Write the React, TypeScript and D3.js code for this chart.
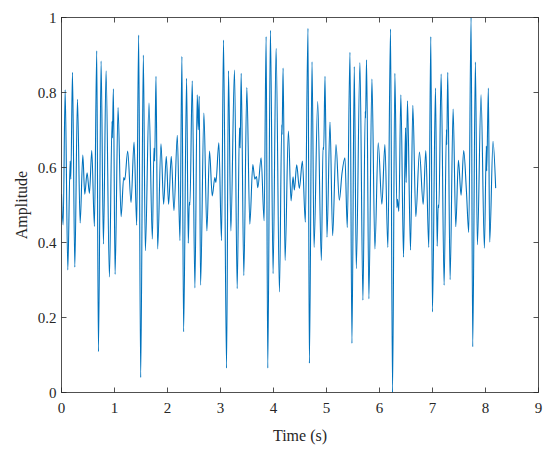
import React from "react";
import * as d3 from "d3";

// Time (s) of each traced turning point of the signal
const timeS: number[] = [
  0.000, 0.031, 0.069, 0.119, 0.163, 0.176, 0.207, 0.251, 0.301, 0.352,
  0.402, 0.439, 0.483, 0.527, 0.571, 0.621, 0.665, 0.697, 0.747, 0.791,
  0.841, 0.904, 0.954, 0.960, 0.979, 1.011, 1.067, 1.124, 1.174, 1.193,
  1.249, 1.312, 1.369, 1.419, 1.456, 1.494, 1.544, 1.582, 1.651, 1.714,
  1.745, 1.758, 1.783, 1.814, 1.877, 1.927, 1.977, 2.021, 2.071, 2.122,
  2.185, 2.235, 2.272, 2.304, 2.360, 2.392, 2.411, 2.423, 2.467, 2.517,
  2.561, 2.580, 2.599, 2.624, 2.687, 2.743, 2.793, 2.844, 2.894, 2.913,
  2.969, 3.019, 3.057, 3.114, 3.151, 3.195, 3.264, 3.315, 3.358, 3.371,
  3.390, 3.440, 3.497, 3.553, 3.610, 3.647, 3.679, 3.704, 3.766, 3.823,
  3.861, 3.892, 3.942, 3.992, 4.049, 4.112, 4.156, 4.162, 4.181, 4.218,
  4.281, 4.331, 4.369, 4.394, 4.438, 4.488, 4.545, 4.601, 4.651, 4.677,
  4.727, 4.765, 4.834, 4.903, 4.934, 4.947, 4.972, 5.009, 5.066, 5.116,
  5.179, 5.242, 5.292, 5.348, 5.392, 5.443, 5.480, 5.524, 5.562, 5.631,
  5.687, 5.731, 5.737, 5.756, 5.800, 5.857, 5.913, 5.976, 6.045, 6.102,
  6.158, 6.208, 6.246, 6.290, 6.328, 6.340, 6.365, 6.403, 6.453, 6.491,
  6.503, 6.528, 6.585, 6.629, 6.685, 6.754, 6.824, 6.874, 6.930, 6.968,
  6.999, 7.056, 7.088, 7.107, 7.120, 7.163, 7.219, 7.263, 7.269, 7.288,
  7.332, 7.389, 7.439, 7.489, 7.539, 7.589, 7.640, 7.684, 7.728, 7.759,
  7.809, 7.847, 7.916, 7.979, 8.016, 8.023, 8.054, 8.079, 8.142, 8.192,
];

// Amplitude at each of those turning points
const amplitude: number[] = [
  0.529, 0.447, 0.807, 0.327, 0.617, 0.569, 0.854, 0.334, 0.782, 0.452,
  0.633, 0.529, 0.586, 0.531, 0.645, 0.443, 0.911, 0.109, 0.884, 0.396,
  0.858, 0.308, 0.723, 0.679, 0.810, 0.315, 0.760, 0.469, 0.573, 0.567,
  0.644, 0.507, 0.668, 0.446, 0.953, 0.040, 0.900, 0.378, 0.772, 0.409,
  0.652, 0.617, 0.843, 0.383, 0.663, 0.502, 0.630, 0.502, 0.630, 0.485,
  0.686, 0.405, 0.896, 0.162, 0.838, 0.398, 0.507, 0.500, 0.831, 0.279,
  0.794, 0.701, 0.790, 0.286, 0.745, 0.431, 0.644, 0.524, 0.573, 0.560,
  0.666, 0.405, 0.940, 0.065, 0.858, 0.431, 0.860, 0.277, 0.706, 0.652,
  0.851, 0.312, 0.813, 0.449, 0.608, 0.569, 0.576, 0.546, 0.626, 0.458,
  0.949, 0.065, 0.966, 0.317, 0.918, 0.268, 0.714, 0.688, 0.865, 0.352,
  0.697, 0.511, 0.575, 0.540, 0.607, 0.544, 0.617, 0.454, 0.971, 0.078,
  0.882, 0.387, 0.776, 0.352, 0.653, 0.648, 0.843, 0.414, 0.721, 0.418,
  0.661, 0.513, 0.584, 0.626, 0.440, 0.907, 0.131, 0.869, 0.330, 0.880,
  0.246, 0.750, 0.732, 0.887, 0.250, 0.836, 0.383, 0.666, 0.502, 0.661,
  0.387, 0.969, 0.000, 0.851, 0.493, 0.515, 0.483, 0.794, 0.361, 0.706,
  0.560, 0.778, 0.380, 0.766, 0.469, 0.641, 0.502, 0.645, 0.387, 0.949,
  0.215, 0.812, 0.390, 0.500, 0.493, 0.849, 0.286, 0.701, 0.661, 0.854,
  0.301, 0.756, 0.442, 0.619, 0.526, 0.645, 0.538, 0.427, 1.000, 0.122,
  0.881, 0.394, 0.794, 0.385, 0.657, 0.591, 0.812, 0.401, 0.670, 0.545,
];

const xTicks: number[] = [0, 1, 2, 3, 4, 5, 6, 7, 8, 9];
const yTicks: number[] = [0, 0.2, 0.4, 0.6, 0.8, 1];
const xLabel = "Time (s)";
const yLabel = "Amplitude";

const W = 550;
const H = 450;
const M = { left: 61.5, top: 17.5, right: 11.5, bottom: 57.5 };
const FONT = "'Liberation Serif', 'Times New Roman', serif";
const AXIS = "#262626";
const LINE = "#0072BD";

export default function App() {
  const iw = W - M.left - M.right;
  const ih = H - M.top - M.bottom;
  const x = d3.scaleLinear().domain([0, 9]).range([M.left, M.left + iw]);
  const y = d3.scaleLinear().domain([0, 1]).range([M.top + ih, M.top]);
  const pts: [number, number][] = timeS.map((t, i) => [t, amplitude[i]]);
  const path =
    d3
      .line<[number, number]>()
      .x((d) => x(d[0]))
      .y((d) => y(d[1]))
      .curve(d3.curveMonotoneX)(pts) || "";
  const tl = 5;
  const fmt = (v: number) => (v === 0 || v === 1 ? String(v) : v.toFixed(1));

  return (
    <svg
      width={W}
      height={H}
      style={{ position: "absolute", left: 0, top: 0, background: "#fff" }}
      fontFamily={FONT}
    >
      <rect x={0} y={0} width={W} height={H} fill="#fff" />
      <defs>
        <clipPath id="plotclip">
          <rect x={M.left} y={M.top - 1} width={iw} height={ih + 2} />
        </clipPath>
      </defs>
      <path
        d={path}
        fill="none"
        stroke={LINE}
        strokeWidth={1.1}
        strokeLinejoin="round"
        clipPath="url(#plotclip)"
      />
      <rect
        x={M.left}
        y={M.top}
        width={iw}
        height={ih}
        fill="none"
        stroke={AXIS}
        strokeWidth={0.8}
      />
      {xTicks.map((t) => (
        <g key={"x" + t}>
          <line x1={x(t)} x2={x(t)} y1={M.top + ih} y2={M.top + ih - tl} stroke={AXIS} strokeWidth={0.8} />
          <line x1={x(t)} x2={x(t)} y1={M.top} y2={M.top + tl} stroke={AXIS} strokeWidth={0.8} />
          <text x={x(t)} y={M.top + ih + 20} textAnchor="middle" fontSize={15} fill={AXIS}>
            {String(t)}
          </text>
        </g>
      ))}
      {yTicks.map((v) => (
        <g key={"y" + v}>
          <line x1={M.left} x2={M.left + tl} y1={y(v)} y2={y(v)} stroke={AXIS} strokeWidth={0.8} />
          <line x1={M.left + iw} x2={M.left + iw - tl} y1={y(v)} y2={y(v)} stroke={AXIS} strokeWidth={0.8} />
          <text x={M.left - 5} y={y(v) + 5} textAnchor="end" fontSize={15} fill={AXIS}>
            {fmt(v)}
          </text>
        </g>
      ))}
      <text x={M.left + iw / 2} y={M.top + ih + 48} textAnchor="middle" fontSize={16} fill={AXIS}>
        {xLabel}
      </text>
      <text
        transform={`translate(${27},${M.top + ih / 2}) rotate(-90)`}
        textAnchor="middle"
        fontSize={16}
        fill={AXIS}
      >
        {yLabel}
      </text>
    </svg>
  );
}
